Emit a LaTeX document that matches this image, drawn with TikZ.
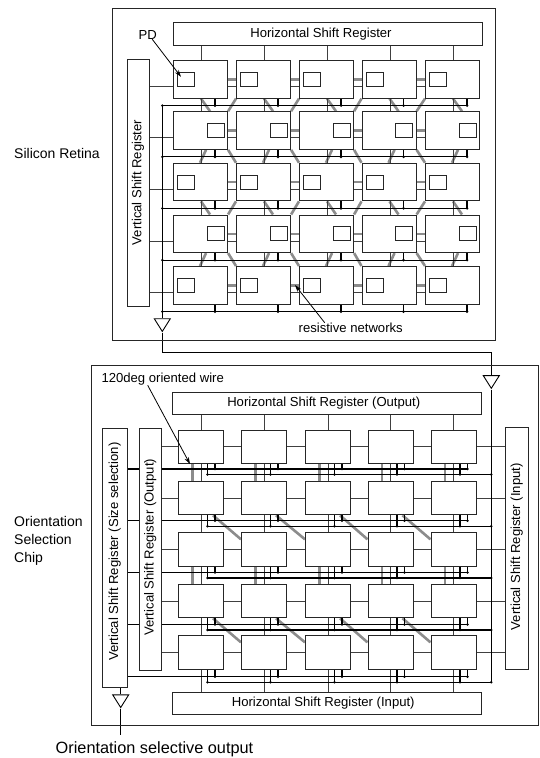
\documentclass[tikz,border=0pt]{standalone}
\usepackage{fontspec}
\setmainfont{Liberation Sans}
\usetikzlibrary{positioning,shapes.geometric,backgrounds,arrows.meta}

\tikzset{
    chipbox/.style={draw=black!85,line width=1pt,anchor=north west,inner sep=0pt},
    regbox/.style={draw=black!85,fill=white,line width=1pt,inner sep=0pt,font=\fontsize{13.1}{15}\selectfont},
    topcell/.style={draw=black!85,fill=white,line width=1.1pt,inner sep=0pt,anchor=north west,minimum width=54pt,minimum height=37.5pt},
    botcell/.style={draw=black!85,fill=white,line width=1.1pt,inner sep=0pt,anchor=north west,minimum width=45pt,minimum height=33.5pt},
    pdbox/.style={draw=black!85,fill=white,line width=1pt,inner sep=0pt,minimum width=17pt,minimum height=14pt},
    buffer/.style={draw=black,fill=white,line width=0.9pt,inner sep=0pt,anchor=apex,isosceles triangle,isosceles triangle stretches,shape border rotate=-90,minimum width=16pt,minimum height=12.7pt},
    thinwire/.style={draw=black!75,line width=0.9pt},
    buswire/.style={draw=black,line width=1.1pt},
    graywire/.style={draw=black!45,line width=2.6pt},
    leader/.style={draw=black,line width=0.8pt,-{Stealth[length=7pt,width=4.5pt]}},
    caption/.style={inner sep=0pt,font=\fontsize{13.1}{15}\selectfont},
    sidelabel/.style={inner sep=0pt,align=left,font=\fontsize{14}{18}\selectfont}
}

\begin{document}
\begin{tikzpicture}[x=1pt,y=-1pt]
    \useasboundingbox (0,0) rectangle (539,758);

    \node[chipbox,minimum width=383.5pt,minimum height=332pt] (retina) at (111.5,8) {};
    \node[chipbox,minimum width=447pt,minimum height=360.5pt] (orient) at (90.5,364.5) {};

    \node[regbox,minimum width=309pt,minimum height=22.5pt] (threg) at (327.5,33.75) {\hspace*{-13pt}Horizontal Shift Register};
    \node[regbox,rotate=90,minimum width=247pt,minimum height=22pt] (tvreg) at (138,182.5) {Vertical Shift Register};
    \node[regbox,minimum width=308.5pt,minimum height=22.5pt] (hout) at (326.75,403.25) {\hspace*{-6pt}Horizontal Shift Register (Output)};
    \node[regbox,minimum width=308.5pt,minimum height=22.5pt] (hin) at (326.75,703.25) {\hspace*{-7pt}Horizontal Shift Register (Input)};
    \node[regbox,rotate=90,minimum width=259pt,minimum height=25.5pt] (vsize) at (114.75,557.5) {\hspace*{11.6pt}Vertical Shift Register (Size selection)};
    \node[regbox,rotate=90,minimum width=241.5pt,minimum height=22.5pt] (vout) at (150.25,549.25) {\hspace*{4pt}Vertical Shift Register (Output)};
    \node[regbox,rotate=90,minimum width=241.5pt,minimum height=22.5pt] (vin) at (516.75,548.25) {\hspace*{3pt}Vertical Shift Register (Input)};

    \foreach \r/\ry in {1/60,2/111.25,3/162.75,4/214.5,5/266}
        \foreach \c/\cx in {1/173,2/236,3/299,4/361.5,5/425}
            \node[topcell] (t\r-\c) at (\cx,\ry) {};

    \foreach \r/\ry in {1/429.5,2/480.75,3/532,4/583.75,5/635}
        \foreach \c/\cx in {1/178,2/241,3/305,4/367.5,5/430.5}
            \node[botcell] (b\r-\c) at (\cx,\ry) {};

    \foreach \c in {1,...,5} {
        \foreach \r in {1,3,5}
            \node[pdbox,right=4pt of t\r-\c.west] (pd\r-\c) {};
        \foreach \r in {2,4}
            \node[pdbox,left=3.5pt of t\r-\c.east] (pd\r-\c) {};
    }

    \node[buffer] (bufa) at (162.3,332.6) {};
    \node[buffer] (bufb) at (491.3,389.5) {};
    \node[buffer] (bufc) at (120.7,708.7) {};
    \coordinate (outend) at (120.7,735);
    \coordinate (resend) at (295,285);

    \node[inner sep=0pt,font=\fontsize{13.1}{15}\selectfont] (pdlabel) at (147.7,34.5) {PD};
    \node[caption] (reslabel) at (350.7,327.7) {resistive networks};
    \node[caption] (wirelabel) at (162.7,379) {120deg oriented wire};
    \node[sidelabel,anchor=west] (retinalabel) at (14,153) {Silicon Retina};
    \node[sidelabel,anchor=west] (orientlabel) at (14,541) {Orientation\\Selection\\Chip};
    \node[inner sep=0pt,font=\fontsize{16.3}{18}\selectfont] (outlabel) at (154.5,749) {Orientation selective output};

    \draw[leader] ([xshift=4.5pt]pdlabel.south) -- ([xshift=4pt,yshift=2.5pt]pd1-1.west);
    \draw[leader] ([xshift=-26pt]reslabel.north) -- (resend);
    \draw[leader] ([xshift=-15pt]wirelabel.south) -- ([xshift=12pt]b1-1.south west);

    \begin{scope}[on background layer]
        \foreach \c in {1,...,5} {
            \foreach \r/\n in {1/2,3/4} {
                \draw[graywire] ([xshift=28pt]t\r-\c.south west) -- ([xshift=37pt]t\n-\c.north west);
            }
            \foreach \r/\n in {2/3,4/5} {
                \draw[graywire] ([xshift=33pt]t\r-\c.south west) -- ([xshift=27pt]t\n-\c.north west);
            }
            \draw[thinwire] ([xshift=1pt]t1-\c.north |- threg.south) -- ([xshift=1pt]t5-\c.north);
        }
        \foreach \c/\d in {1/2,2/3,3/4,4/5} {
            \foreach \r/\n in {1/2,3/4}
                \draw[graywire] (t\r-\d.south west) -- (t\n-\c.north east);
            \foreach \r/\n in {2/3,4/5}
                \draw[graywire] (t\r-\c.south east) -- (t\n-\d.north west);
            \foreach \r in {1,...,5}
                \draw[graywire] (t\r-\c.east) -- (t\r-\d.west);
        }
        \foreach \r in {1,...,5} {
            \coordinate (ta\r) at ([yshift=-7.25pt]t\r-1.west);
            \coordinate (tb\r) at ([yshift=-7pt]t\r-1.south);
            \draw[thinwire] (tvreg.south |- ta\r) -- (t\r-5.west |- ta\r);
            \foreach \c in {1,...,5} {
                \coordinate (ts) at ([xshift=42pt]t\r-\c.south west);
                \draw[buswire] (ts) -- (ts |- tb\r);
                \fill (ts |- tb\r) circle (1.4);
            }
            \draw[buswire] (bufa.lower side |- tb\r) -- (ts |- tb\r);
            \fill (bufa.lower side |- tb\r) circle (1.4);
        }
        \draw[buswire] (bufa.lower side |- tb1) -- (bufa.lower side);
        \draw[buswire] (bufa.apex) -- ++(0,20) -| (bufb.lower side);

        \foreach \c in {1,...,5} {
            \draw[thinwire] (b1-\c.north |- hout.south) -- (b1-\c.north |- hin.north);
            \foreach \r/\n in {1/2,3/4}
                \draw[graywire] ([xshift=14.5pt]b\r-\c.south west) -- ([xshift=14.5pt]b\n-\c.north west);
        }
        \foreach \c/\d in {1/2,2/3,3/4,4/5}
            \foreach \r/\n in {2/3,4/5} {
                \draw[graywire] ([xshift=35pt]b\r-\c.south west) -- ([yshift=-24pt]b\r-\d.south west);
            }
        \foreach \r/\uy in {1/469,2/520.7,3/572.5,4/624.5,5/676.7} {
            \coordinate (u\r) at (127.5,\uy);
            \coordinate (l\r) at (127.5,\uy+5.5);
            \draw[thinwire] (vout.south |- b\r-1.west) -- (vin.north |- b\r-1.west);
            \foreach \c in {1,...,5} {
                \coordinate (su) at ([xshift=37pt]b\r-\c.south west);
                \coordinate (sl) at ([xshift=29.5pt]b\r-\c.south west);
                \draw[buswire] (su) -- (su |- u\r);
                \draw[buswire] (sl) -- (sl |- l\r);
                \fill (su |- u\r) circle (1.4);
                \fill (sl |- l\r) circle (1.4);
            }
            \draw[buswire] (vsize.south |- u\r) -- (su |- u\r);
            \draw[buswire] ([xshift=29.5pt]b\r-1.south west |- l\r) -- (bufb.apex |- l\r);
            \fill (bufb.apex |- l\r) circle (1.4);
        }
        \draw[buswire] (bufb.apex) -- (bufb.apex |- l5);
        \draw[buswire] (bufc.lower side |- vsize.west) -- (bufc.lower side);
        \draw[buswire] (bufc.apex) -- (outend);
    \end{scope}
\end{tikzpicture}
\end{document}
